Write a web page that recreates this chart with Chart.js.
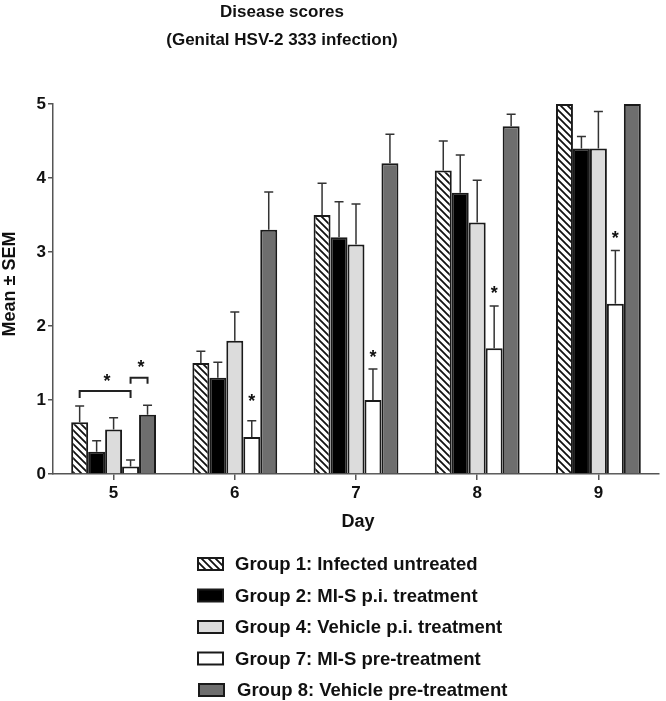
<!DOCTYPE html>
<html>
<head>
<meta charset="utf-8">
<script src="https://cdn.jsdelivr.net/npm/chart.js@4/dist/chart.umd.min.js"></script>
<style>
  html, body { margin: 0; padding: 0; background: #fff; }
  #wrap { width: 666px; height: 701px; }
</style>
</head>
<body>
<div id="wrap"><canvas id="c" width="666" height="701"></canvas></div>
<script>
// ---- data ----
const days = ['5', '6', '7', '8', '9']
const groupNames = [
  'Group 1: Infected untreated',
  'Group 2: MI-S p.i. treatment',
  'Group 4: Vehicle p.i. treatment',
  'Group 7: MI-S pre-treatment',
  'Group 8: Vehicle pre-treatment'
]
const g1Mean = [0.7, 1.5, 3.5, 4.1, 5.0]
const g1Sem = [0.22, 0.16, 0.43, 0.40, 0]
const g2Mean = [0.3, 1.3, 3.2, 3.8, 4.4]
const g2Sem = [0.15, 0.21, 0.48, 0.51, 0.16]
const g4Mean = [0.6, 1.8, 3.1, 3.4, 4.4]
const g4Sem = [0.16, 0.39, 0.55, 0.57, 0.50]
const g7Mean = [0.1, 0.5, 1.0, 1.7, 2.3]
const g7Sem = [0.09, 0.22, 0.42, 0.57, 0.72]
const g8Mean = [0.8, 3.3, 4.2, 4.7, 5.0]
const g8Sem = [0.13, 0.51, 0.39, 0.16, 0]
const yTicks = [0, 1, 2, 3, 4, 5]

// significance marks: [datasetIndex, dayIndex, star value]
const stars = [[3, 1, 1.03], [3, 2, 1.63], [3, 3, 2.50], [3, 4, 3.24]]
// brackets at day 5: [fromDataset, toDataset, level, star value]
const brackets = [[0, 3, 1.12, 1.30], [3, 4, 1.30, 1.50]]

const means = [g1Mean, g2Mean, g4Mean, g7Mean, g8Mean]
const sems = [g1Sem, g2Sem, g4Sem, g7Sem, g8Sem]

// hatch pattern for group 1
function hatch(size) {
  const p = document.createElement('canvas')
  p.width = size; p.height = size
  const g = p.getContext('2d')
  g.fillStyle = '#fff'
  g.fillRect(0, 0, size, size)
  g.strokeStyle = '#111'
  g.lineWidth = 1.8
  g.beginPath()
  g.moveTo(-1, -1); g.lineTo(size + 1, size + 1)
  g.moveTo(-2, size - 2); g.lineTo(2, size + 2)
  g.moveTo(size - 2, -2); g.lineTo(size + 2, 2)
  g.stroke()
  return document.getElementById('c').getContext('2d').createPattern(p, 'repeat')
}
const hatchFill = hatch(7)
const fills = [hatchFill, '#000000', '#dcdcdc', '#ffffff', '#6e6e6e']

const font = (s) => 'bold ' + s + 'px "Liberation Sans", Arial, sans-serif'

const extras = {
  id: 'extras',
  afterDatasetsDraw(chart) {
    const ctx = chart.ctx
    const y = chart.scales.y
    ctx.save()
    // error bars (upper only)
    ctx.strokeStyle = '#333'
    ctx.lineWidth = 1.5
    means.forEach((m, di) => {
      const meta = chart.getDatasetMeta(di)
      meta.data.forEach((bar, i) => {
        if (!sems[di][i]) return
        const top = y.getPixelForValue(m[i] + sems[di][i])
        ctx.beginPath()
        ctx.moveTo(bar.x, bar.y)
        ctx.lineTo(bar.x, top)
        ctx.moveTo(bar.x - 4.5, top)
        ctx.lineTo(bar.x + 4.5, top)
        ctx.stroke()
      })
    })
    // stars
    ctx.fillStyle = '#111'
    ctx.font = font(18)
    ctx.textAlign = 'center'
    ctx.textBaseline = 'alphabetic'
    stars.forEach(([di, i, v]) => {
      const bar = chart.getDatasetMeta(di).data[i]
      ctx.fillText('*', bar.x, y.getPixelForValue(v) + 9.5)
    })
    // brackets
    ctx.strokeStyle = '#222'
    ctx.lineWidth = 2
    brackets.forEach(([a, b, lvl, sv], k) => {
      const x1 = chart.getDatasetMeta(a).data[0].x
      const x2 = chart.getDatasetMeta(b).data[0].x
      const py = y.getPixelForValue(lvl)
      const drop = k === 0 ? 7 : 6
      ctx.beginPath()
      ctx.moveTo(x1, py + drop)
      ctx.lineTo(x1, py)
      ctx.lineTo(x2, py)
      ctx.lineTo(x2, py + drop)
      ctx.stroke()
      ctx.fillText('*', (x1 + x2) / 2 + 2, y.getPixelForValue(sv) + 9.5)
    })
    ctx.restore()
  },
  afterDraw(chart) {
    const ctx = chart.ctx
    const area = chart.chartArea
    ctx.save()
    ctx.fillStyle = '#111'
    // title
    ctx.font = font(17)
    ctx.textAlign = 'center'
    ctx.textBaseline = 'alphabetic'
    ctx.fillText('Disease scores', 282, 17)
    ctx.fillText('(Genital HSV-2 333 infection)', 282, 45)
    // axis titles
    ctx.font = font(18)
    ctx.fillText('Day', (area.left + area.right) / 2 + 2, 527)
    ctx.save()
    ctx.translate(15, (area.top + area.bottom) / 2 - 5)
    ctx.rotate(-Math.PI / 2)
    ctx.fillText('Mean \u00b1 SEM', 0, 0)
    ctx.restore()
    // legend
    ctx.textAlign = 'left'
    ctx.textBaseline = 'middle'
    ctx.font = font(18.5)
    groupNames.forEach((name, i) => {
      const cy = 564 + i * 31.5
      const dx = i === 4 ? 1 : 0
      ctx.fillStyle = fills[i]
      ctx.fillRect(198 + dx, cy - 6, 25, 12)
      ctx.strokeStyle = '#1a1a1a'
      ctx.lineWidth = 2
      ctx.strokeRect(198 + dx, cy - 6, 25, 12)
      ctx.fillStyle = '#111'
      ctx.fillText(name, 235 + dx * 2, cy + 1)
    })
    ctx.restore()
  }
}

new Chart(document.getElementById('c'), {
  type: 'bar',
  data: {
    labels: days,
    datasets: groupNames.map((name, i) => ({
      label: name,
      data: means[i],
      backgroundColor: fills[i],
      borderColor: '#1a1a1a',
      borderWidth: 2,
      categoryPercentage: 0.7,
      barPercentage: 1.0
    }))
  },
  options: {
    responsive: false,
    animation: false,
    layout: { padding: { top: 104, left: 0, right: 7, bottom: 197 } },
    plugins: { legend: { display: false }, title: { display: false }, tooltip: { enabled: false } },
    scales: {
      x: {
        grid: { drawOnChartArea: false, offset: false, tickLength: 6, color: '#555', lineWidth: 1.5 },
        border: { color: '#555', width: 1.5 },
        ticks: { font: { family: '"Liberation Sans", Arial, sans-serif', size: 17, weight: 'bold' }, color: '#111', padding: 3 },
        afterFit: (s) => { s.height = 30 }
      },
      y: {
        min: 0,
        max: 5,
        afterBuildTicks: (s) => { s.ticks = yTicks.map(v => ({ value: v })) },
        grid: { drawOnChartArea: false, tickLength: 5, color: '#555', lineWidth: 1.5 },
        border: { color: '#555', width: 1.5 },
        ticks: { font: { family: '"Liberation Sans", Arial, sans-serif', size: 17, weight: 'bold' }, color: '#111', padding: 2 },
        afterFit: (s) => { s.width = 53 }
      }
    }
  },
  plugins: [extras]
})
</script>
</body>
</html>
